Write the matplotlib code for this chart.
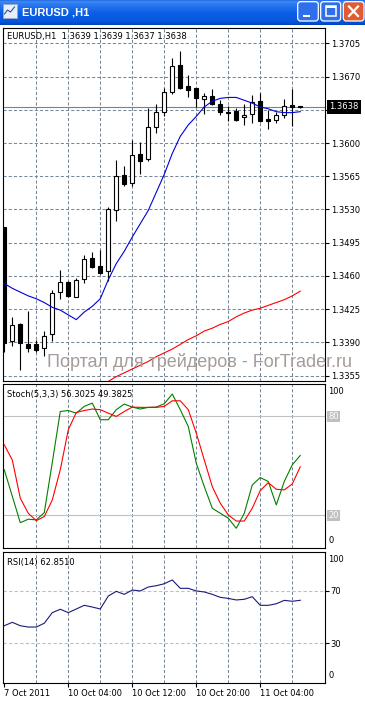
import numpy as np
import matplotlib.pyplot as plt
from matplotlib.patches import FancyBboxPatch, Rectangle
from matplotlib.colors import LinearSegmentedColormap

# EURUSD H1 bars, 7 Oct 2011 .. 11 Oct 2011 09:00
bar_open = [1.3512, 1.3391, 1.3409, 1.3388, 1.3388, 1.3384, 1.3399, 1.3443, 1.3454, 1.3438,
            1.3457, 1.3479, 1.3471, 1.3465, 1.3529, 1.3566, 1.3558, 1.3588, 1.3583, 1.3617,
            1.3633, 1.3654, 1.3682, 1.3660, 1.3658, 1.3646, 1.3650, 1.3641, 1.3633, 1.3634,
            1.3627, 1.3631, 1.3644, 1.3625, 1.3624, 1.3630, 1.3640, 1.3639]
bar_high = [1.3512, 1.3417, 1.3410, 1.3423, 1.3393, 1.3402, 1.3445, 1.3466, 1.3455, 1.3458,
            1.3482, 1.3485, 1.3487, 1.3533, 1.3582, 1.3576, 1.3603, 1.3601, 1.3637, 1.3641,
            1.3658, 1.3689, 1.3697, 1.3672, 1.3658, 1.3653, 1.3657, 1.3645, 1.3639, 1.3637,
            1.3641, 1.3651, 1.3653, 1.3635, 1.3633, 1.3646, 1.3657, 1.3639]
bar_low = [1.3380, 1.3386, 1.3361, 1.3380, 1.3380, 1.3376, 1.3391, 1.3436, 1.3438, 1.3438,
           1.3453, 1.3468, 1.3462, 1.3455, 1.3518, 1.3555, 1.3555, 1.3567, 1.3581, 1.3611,
           1.3628, 1.3652, 1.3657, 1.3648, 1.3638, 1.3631, 1.3640, 1.3630, 1.3623, 1.3623,
           1.3619, 1.3621, 1.3622, 1.3615, 1.3621, 1.3626, 1.3618, 1.3637]
bar_close = [1.3389, 1.3408, 1.3389, 1.3384, 1.3382, 1.3397, 1.3442, 1.3454, 1.3439, 1.3456,
             1.3478, 1.3469, 1.3463, 1.3530, 1.3565, 1.3557, 1.3587, 1.3581, 1.3617, 1.3633,
             1.3654, 1.3681, 1.3658, 1.3656, 1.3647, 1.3650, 1.3641, 1.3633, 1.3632, 1.3624,
             1.3630, 1.3643, 1.3623, 1.3623, 1.3629, 1.3639, 1.3638, 1.3638]

ma_fast = [1.3452, 1.3447, 1.3443, 1.3439, 1.3436, 1.3432, 1.3427, 1.3424, 1.3419, 1.3414,
           1.3422, 1.3428, 1.3436, 1.3456, 1.3473, 1.3486, 1.3501, 1.3515, 1.3529, 1.3548,
           1.3567, 1.3589, 1.3607, 1.3619, 1.3628, 1.3638, 1.3644, 1.3647, 1.3648, 1.3648,
           1.3645, 1.3642, 1.3638, 1.3636, 1.3633, 1.3632, 1.3632, 1.3633]
ma_slow = [np.nan] * 12 + [1.3345, 1.3349, 1.3354, 1.3358, 1.3362, 1.3366, 1.3370, 1.3375,
                           1.3379, 1.3383, 1.3388, 1.3393, 1.3397, 1.3402, 1.3405, 1.3409,
                           1.3412, 1.3417, 1.3421, 1.3424, 1.3426, 1.3429, 1.3432, 1.3435,
                           1.3439, 1.3444]

stoch_main = [47.6, 31.6, 15.5, 17.6, 17.2, 21.6, 52.0, 83.0, 83.6, 82.0,
              86.1, 88.1, 78.0, 78.0, 84.1, 87.5, 85.7, 84.5, 85.5, 85.7,
              87.7, 93.6, 84.1, 73.9, 51.6, 37.4, 24.3, 21.2, 18.2, 12.1,
              21.2, 38.4, 42.9, 40.5, 26.3, 40.5, 50.6, 56.3025]
stoch_signal = [62.8, 53.6, 30.4, 21.2, 16.7, 19.2, 29.3, 47.6, 71.9, 82.4,
                83.6, 84.5, 84.1, 82.0, 80.0, 83.0, 85.7, 85.5, 85.5, 85.5,
                86.1, 89.5, 89.5, 84.1, 69.9, 53.6, 37.4, 27.3, 20.2, 16.5,
                16.5, 24.3, 35.0, 39.8, 35.8, 35.4, 39.0, 49.3825]
rsi = [43.4, 46.0, 43.4, 42.4, 42.4, 45.3, 53.4, 56.0, 53.4, 56.2,
       59.0, 57.7, 56.2, 66.1, 69.7, 67.4, 70.7, 70.0, 73.0, 74.0,
       75.5, 78.4, 72.0, 72.0, 70.0, 69.2, 67.4, 65.1, 64.3, 63.1,
       63.6, 65.6, 59.0, 59.0, 60.2, 62.8, 62.1, 62.851]

time_bars = [0, 8, 16, 24, 32]
time_labels = ['7 Oct 2011', '10 Oct 04:00', '10 Oct 12:00', '10 Oct 20:00', '11 Oct 04:00']
price_levels = [1.3355, 1.3390, 1.3425, 1.3460, 1.3495, 1.3530, 1.3565, 1.3600, 1.3635, 1.3670, 1.3705]

W, H = 365, 702
GRID = '#778899'
SMALL = 6
plt.rcParams['font.family'] = ['DejaVu Sans']


def rect(l, t, r, b):
    return [l / W, 1 - b / H, (r - l) / W, (b - t) / H]


fig = plt.figure(figsize=(W / 100, H / 100), dpi=100, facecolor='white')

# ---- window title bar
ov = fig.add_axes([0, 0, 1, 1], zorder=-1)
ov.set_xlim(0, W)
ov.set_ylim(H, 0)
ov.axis('off')
tb = LinearSegmentedColormap.from_list('tb', [(0, '#0a48c8'), (0.08, '#3d8af7'), (0.22, '#2a78f0'),
                                              (0.55, '#0a5ee6'), (0.88, '#0656dc'), (1, '#0042bc')])
ov.imshow(np.linspace(0, 1, 64).reshape(-1, 1), cmap=tb, extent=(0, W, 25.5, 0), aspect='auto')
ov.add_patch(Rectangle((2.5, 4), 14, 14, fc='#e8eef8', ec='#9aa8c0', lw=0.6))
ov.plot([4.5, 7.5, 10.5, 14.5], [14, 10, 12, 7], color='#3050a0', lw=0.8)
ov.text(21.7, 12.5, 'EURUSD ,H1', color='white', fontsize=8, fontweight='bold',
        family='Liberation Sans', va='center', ha='left')
for l, r, fc in [(297.7, 318.3, '#2f6fec'), (320.7, 340.7, '#2f6fec'), (343.3, 364, '#e05a34')]:
    ov.add_patch(FancyBboxPatch((l, 1.7), r - l, 19.3, boxstyle='round,pad=0,rounding_size=3',
                                fc=fc, ec='white', lw=0.9))
ov.add_patch(Rectangle((303.3, 14.8), 6.7, 2.4, fc='white', ec='none'))
ov.add_patch(Rectangle((326, 5.5), 10, 10.5, fc='none', ec='white', lw=1.1))
ov.add_patch(Rectangle((326, 5.5), 10, 2, fc='white', ec='none'))
ov.plot([349, 358], [6.5, 16], color='white', lw=1.6)
ov.plot([358, 349], [6.5, 16], color='white', lw=1.6)

# ---- panels
ax = fig.add_axes(rect(3, 28.3, 324.5, 380.5))
ax_st = fig.add_axes(rect(3, 383.5, 324.5, 548.2))
ax_rsi = fig.add_axes(rect(3, 551.7, 324.5, 682.5))

x = np.arange(len(bar_close))
for a in (ax, ax_st, ax_rsi):
    a.set_xlim(-0.16, 40.03)
    a.set_facecolor('white')
    for s in a.spines.values():
        s.set_color('black')
        s.set_linewidth(0.8)
    for k in range(4, 40, 4):
        a.axvline(k, color=GRID, lw=0.75, ls=(0, (3, 2)), zorder=1)
    a.set_xticks([])

# main chart
for p in price_levels:
    ax.axhline(p, color=GRID, lw=0.75, ls=(0, (3, 2)), zorder=1)
ax.axhline(bar_close[-1], color='#808080', lw=0.8, zorder=1.5)

o = np.array(bar_open)
c = np.array(bar_close)
body_lo = np.minimum(o, c)
body_h = np.maximum(np.abs(c - o), 1e-6)
ax.vlines(x, bar_low, bar_high, color='black', lw=0.8, zorder=2)
ax.bar(x, body_h, bottom=body_lo, width=0.55, color=np.where(c > o, 'white', 'black'),
       edgecolor='black', linewidth=0.8, zorder=3)
ax.plot(x, ma_fast, color='#0000dd', lw=0.8, zorder=4)
ax.plot(x, ma_slow, color='#ff0000', lw=0.8, zorder=4)

ax.set_ylim(1.33499, 1.37208)
ax.yaxis.tick_right()
ax.set_yticks(price_levels)
# the level under the current-price box stays unlabeled, as in the terminal
ax.set_yticklabels(['' if abs(p - bar_close[-1]) < 0.0008 else f'{p:.4f}' for p in price_levels])
ax.tick_params(axis='y', direction='out', length=3, width=0.8, pad=2, labelsize=SMALL)
ax.annotate(f'EURUSD,H1  {bar_open[-1]:.4f} {bar_high[-1]:.4f} {bar_low[-1]:.4f} {bar_close[-1]:.4f}',
            xy=(0, 1), xycoords='axes fraction', xytext=(4, -3.5), textcoords='offset pixels',
            va='top', ha='left', fontsize=SMALL)
ax.annotate(f'{bar_close[-1]:.4f}', xy=(1, bar_close[-1]), xycoords=('axes fraction', 'data'),
            xytext=(4.5, 0), textcoords='offset pixels', va='center', ha='left', color='white',
            fontsize=SMALL, annotation_clip=False,
            bbox=dict(boxstyle='square,pad=0.3', fc='black', ec='none'))

# stochastic
ax_st.set_ylim(0, 100)
ax_st.set_yticks([])
for lv in (80, 20):
    ax_st.axhline(lv, color='#c0c0c0', lw=0.8, zorder=1)
    ax_st.annotate(str(lv), xy=(1, lv), xycoords=('axes fraction', 'data'), xytext=(3.5, 0),
                   textcoords='offset pixels', va='center', ha='left', color='white', fontsize=SMALL,
                   annotation_clip=False, bbox=dict(boxstyle='square,pad=0.15', fc='#c0c0c0', ec='none'))
ax_st.annotate('100', xy=(1, 100), xycoords=('axes fraction', 'data'), xytext=(4, -4),
               textcoords='offset pixels', va='top', ha='left', fontsize=SMALL, annotation_clip=False)
ax_st.annotate('0', xy=(1, 0), xycoords=('axes fraction', 'data'), xytext=(4, 3),
               textcoords='offset pixels', va='bottom', ha='left', fontsize=SMALL, annotation_clip=False)
ax_st.plot(x, stoch_main, color='#008000', lw=0.8, zorder=3)
ax_st.plot(x, stoch_signal, color='#ff0000', lw=0.8, zorder=3)
ax_st.annotate(f'Stoch(5,3,3) {stoch_main[-1]:.4f} {stoch_signal[-1]:.4f}', xy=(0, 1),
               xycoords='axes fraction', xytext=(4, -6), textcoords='offset pixels',
               va='top', ha='left', fontsize=SMALL)

# RSI
ax_rsi.set_ylim(0, 100)
for lv in (70, 30):
    ax_rsi.axhline(lv, color='#c0c0c0', lw=0.8, ls=(0, (3, 2)), zorder=1)
ax_rsi.yaxis.tick_right()
ax_rsi.set_yticks([70, 30])
ax_rsi.set_yticklabels(['70', '30'])
ax_rsi.tick_params(axis='y', direction='out', length=3, width=0.8, pad=1.5, labelsize=SMALL)
ax_rsi.annotate('100', xy=(1, 100), xycoords=('axes fraction', 'data'), xytext=(4, -3),
                textcoords='offset pixels', va='top', ha='left', fontsize=SMALL, annotation_clip=False)
ax_rsi.annotate('0', xy=(1, 0), xycoords=('axes fraction', 'data'), xytext=(4, 2.5),
                textcoords='offset pixels', va='bottom', ha='left', fontsize=SMALL, annotation_clip=False)
ax_rsi.plot(x, rsi, color='#1a1a7a', lw=0.8, zorder=3)
ax_rsi.annotate(f'RSI(14) {rsi[-1]:.4f}', xy=(0, 1), xycoords='axes fraction', xytext=(4, -6),
                textcoords='offset pixels', va='top', ha='left', fontsize=SMALL)
ax_rsi.set_xticks(time_bars)
ax_rsi.set_xticklabels(time_labels, ha='left')
ax_rsi.tick_params(axis='x', direction='out', length=3, width=0.8, pad=2, labelsize=SMALL)

# watermark
fig.text(47.3 / W, 1 - 366.7 / H, 'Портал для трейдеров - ForTrader.ru', fontsize=13,
         family='Liberation Sans', color='#a59c9a', va='baseline', ha='left', zorder=10)

fig.savefig('out.png', dpi=100)
